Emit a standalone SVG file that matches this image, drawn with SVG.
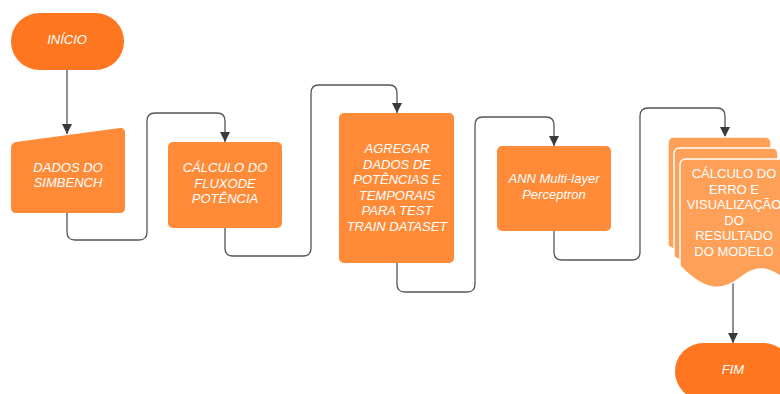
<svg xmlns="http://www.w3.org/2000/svg" width="780" height="394" viewBox="0 0 780 394">
  <defs>
    <marker id="arrow" viewBox="0 0 10 10" refX="10" refY="5" markerWidth="10" markerHeight="10" markerUnits="userSpaceOnUse" orient="auto">
      <path d="M0,0 L10,5 L0,10 Z" fill="#3a3a3a"/>
    </marker>
    <style>
      .term { fill: #FE7620; }
      .proc { fill: #FF8B38; }
      .doc { fill: #FFA058; stroke: #ffffff; stroke-width: 1.5; }
      .lbl { font-family: "Liberation Sans", Arial, sans-serif; font-size: 13px; fill: #ffffff; text-anchor: middle; font-style: italic; }
      .up { font-style: normal; }
      .wire { fill: none; stroke: #555555; stroke-width: 1.3; marker-end: url(#arrow); }
    </style>
  </defs>
  <rect width="780" height="394" fill="#ffffff"/>

  <g id="connectors">
    <path class="wire" d="M67,70 V134"/>
    <path class="wire" d="M67,213 V232 Q67,240 75,240 H139 Q147,240 147,232 V121 Q147,113 155,113 H217 Q225,113 225,121 V142"/>
    <path class="wire" d="M225,228 V248 Q225,256 233,256 H303 Q311,256 311,248 V93 Q311,85 319,85 H389 Q397,85 397,93 V113"/>
    <path class="wire" d="M397,263 V284 Q397,292 405,292 H467 Q475,292 475,284 V125 Q475,117 483,117 H546 Q554,117 554,125 V146"/>
    <path class="wire" d="M554,231 V252 Q554,260 562,260 H632 Q640,260 640,252 V116 Q640,108 648,108 H717 Q725,108 725,116 V137"/>
    <path class="wire" d="M733,264 V343"/>
  </g>

  <g id="inicio">
    <rect class="term" x="11" y="13" width="113" height="57" rx="28.5"/>
    <text class="lbl" x="67" y="44">INÍCIO</text>
  </g>

  <g id="dados-simbench">
    <path class="proc" d="M16,142 L120,128 Q125,127.5 125,133 V208 Q125,213 120,213 H16 Q11,213 11,208 V148 Q11,143 16,142 Z"/>
    <text class="lbl" x="68" y="172">DADOS DO</text>
    <text class="lbl" x="68" y="187">SIMBENCH</text>
  </g>

  <g id="calculo-fluxo">
    <rect class="proc" x="168" y="142" width="114" height="86" rx="5"/>
    <text class="lbl" x="225" y="172">CÁLCULO DO</text>
    <text class="lbl" x="225" y="188">FLUXODE</text>
    <text class="lbl" x="225" y="203">POTÊNCIA</text>
  </g>

  <g id="agregar-dados">
    <rect class="proc" x="339" y="113" width="115" height="150" rx="5"/>
    <text class="lbl" x="397" y="153">AGREGAR</text>
    <text class="lbl" x="397" y="168.5">DADOS DE</text>
    <text class="lbl" x="397" y="184">POTÊNCIAS E</text>
    <text class="lbl" x="397" y="199.5">TEMPORAIS</text>
    <text class="lbl" x="397" y="215">PARA TEST</text>
    <text class="lbl" x="397" y="230.5">TRAIN DATASET</text>
  </g>

  <g id="ann-mlp">
    <rect class="proc" x="497" y="146" width="114" height="85" rx="5"/>
    <text class="lbl" x="554" y="183">ANN Multi-layer</text>
    <text class="lbl" x="554" y="199">Perceptron</text>
  </g>

  <!-- stacked documents: back, middle, front -->
  <g id="calculo-erro">
    <path class="doc" d="M674,137 H765 Q771,137 771,143 V240 C755,236 740,246 722,256 C705,266 688,258 668,246 V143 Q668,137 674,137 Z"/>
    <path class="doc" d="M680,148 H772 Q778,148 778,154 V251 C762,247 747,257 729,267 C712,277 695,269 674,257 V154 Q674,148 680,148 Z"/>
    <path class="doc" d="M686,159 H784 Q790,159 790,165 V284 C768,264 755,266 740,278 C722,292 705,292 680,266 V165 Q680,159 686,159 Z"/>
    <text class="lbl up" x="734" y="178">CÁLCULO DO</text>
    <text class="lbl up" x="734" y="194">ERRO E</text>
    <text class="lbl up" x="734" y="209">VISUALIZAÇÃO</text>
    <text class="lbl up" x="734" y="225">DO</text>
    <text class="lbl up" x="734" y="240">RESULTADO</text>
    <text class="lbl up" x="734" y="256">DO MODELO</text>
  </g>

  <g id="fim">
    <rect class="term" x="675" y="343" width="117" height="57" rx="28.5"/>
    <text class="lbl" x="733" y="374">FIM</text>
  </g>
</svg>
